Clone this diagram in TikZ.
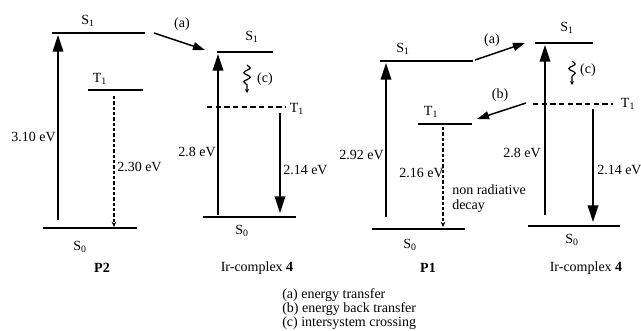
\documentclass[tikz,border=0pt]{standalone}
\usepackage{fontspec}
\setmainfont{Liberation Serif}
\usetikzlibrary{arrows.meta,decorations.pathmorphing}

\begin{document}
\begin{tikzpicture}[x=0.75pt, y=-0.75pt,
  every node/.style = {font=\fontsize{10.5}{11.25}\selectfont, inner sep=0pt},
  level/.style  = {line width=1pt},
  tlevel/.style = {line width=1pt, dash pattern=on 4pt off 2.5pt},
  up/.style     = {-{Triangle[length=12.5pt, width=8pt]}, line width=1pt},
  nr/.style     = {-{Stealth[length=4pt, width=3.5pt]}, line width=1pt, dash pattern=on 2.5pt off 1.5pt},
  et/.style     = {-{Triangle[length=9pt, width=6pt]}, line width=1.1pt},
  isc/.style    = {-{Stealth[length=3pt, width=3pt]}, line width=0.9pt, decorate,
                   decoration={snake, amplitude=2.4pt, segment length=7pt, post length=6pt}},
  molname/.style= {font=\fontsize{10.5}{11.25}\selectfont\bfseries}
]
\useasboundingbox (0,0) rectangle (641,331);

% ================= P2 =================
\coordinate (p2S1a) at (52,33);  \coordinate (p2S1b) at (145,33);
\coordinate (p2T1a) at (88,90);  \coordinate (p2T1b) at (143,90);
\coordinate (p2S0a) at (43,228); \coordinate (p2S0b) at (137,228);
\draw[level] (p2S1a) -- (p2S1b);
\draw[level] (p2T1a) -- (p2T1b);
\draw[level] (p2S0a) -- (p2S0b);
\node (p2S1) at (88,21)  {S\textsubscript{1}};
\node (p2T1) at (100,79) {T\textsubscript{1}};
\node (p2S0) at (80,247) {S\textsubscript{0}};
\coordinate (p2up0) at (58,220);  \coordinate (p2up1) at (58,35);
\coordinate (p2nr0) at (114,96);  \coordinate (p2nr1) at (114,227);
\draw[up] (p2up0) -- (p2up1);
\draw[nr] (p2nr0) -- (p2nr1);
\node[anchor=east] (p2E) at (56,137) {3.10 eV};
\node[anchor=west] (p2P) at (117,167) {2.30 eV};
\node[molname] (p2) at (102,268) {P2};

% ================= Ir-complex 4 (left) =================
\coordinate (i1S1a) at (217,52);  \coordinate (i1S1b) at (273,52);
\coordinate (i1T1a) at (207,107); \coordinate (i1T1b) at (286,107);
\coordinate (i1S0a) at (203,217); \coordinate (i1S0b) at (296,217);
\draw[level]  (i1S1a) -- (i1S1b);
\draw[tlevel] (i1T1a) -- (i1T1b);
\draw[level]  (i1S0a) -- (i1S0b);
\node (i1S1) at (252,37)  {S\textsubscript{1}};
\node (i1T1) at (297,109) {T\textsubscript{1}};
\node (i1S0) at (242,231) {S\textsubscript{0}};
\coordinate (i1up0) at (218,215); \coordinate (i1up1) at (218,54);
\coordinate (i1em0) at (280,113); \coordinate (i1em1) at (280,213);
\coordinate (i1c0) at (247,65);   \coordinate (i1c1) at (247,93);
\draw[up]  (i1up0) -- (i1up1);
\draw[up]  (i1em0) -- (i1em1);
\draw[isc] (i1c0) -- (i1c1);
\node (i1c) at (265,79) {(c)};
\node[anchor=east] (i1E) at (216,152) {2.8 eV};
\node[anchor=west] (i1P) at (283,170) {2.14 eV};
\node (i1) at (257,268) {Ir-complex \textbf{4}};

% energy transfer P2 -> Ir
\coordinate (a1s) at (154,33); \coordinate (a1e) at (205,50);
\draw[et] (a1s) -- (a1e);
\node (a1) at (182,24) {(a)};

% ================= P1 =================
\coordinate (p1S1a) at (380,61);  \coordinate (p1S1b) at (473,61);
\coordinate (p1T1a) at (418,124); \coordinate (p1T1b) at (472,124);
\coordinate (p1S0a) at (372,229); \coordinate (p1S0b) at (465,229);
\draw[level] (p1S1a) -- (p1S1b);
\draw[level] (p1T1a) -- (p1T1b);
\draw[level] (p1S0a) -- (p1S0b);
\node (p1S1) at (403,49)  {S\textsubscript{1}};
\node (p1T1) at (431,112) {T\textsubscript{1}};
\node (p1S0) at (410,245) {S\textsubscript{0}};
\coordinate (p1up0) at (386,217); \coordinate (p1up1) at (386,63);
\coordinate (p1nr0) at (443,127); \coordinate (p1nr1) at (443,227);
\draw[up] (p1up0) -- (p1up1);
\draw[nr] (p1nr0) -- (p1nr1);
\node[anchor=east] (p1E) at (384,155) {2.92 eV};
\node[anchor=east] (p1P) at (444,173) {2.16 eV};
\node[anchor=west, align=left] (p1nd) at (452,199) {non radiative\\decay};
\node[molname] (p1) at (428,268) {P1};

% ================= Ir-complex 4 (right) =================
\coordinate (i2S1a) at (535,43);  \coordinate (i2S1b) at (593,43);
\coordinate (i2T1a) at (533,104); \coordinate (i2T1b) at (613,104);
\coordinate (i2S0a) at (528,226); \coordinate (i2S0b) at (620,226);
\draw[level]  (i2S1a) -- (i2S1b);
\draw[tlevel] (i2T1a) -- (i2T1b);
\draw[level]  (i2S0a) -- (i2S0b);
\node (i2S1) at (567,28)  {S\textsubscript{1}};
\node (i2T1) at (628,104) {T\textsubscript{1}};
\node (i2S0) at (572,240) {S\textsubscript{0}};
\coordinate (i2up0) at (545,215); \coordinate (i2up1) at (545,45);
\coordinate (i2em0) at (593,109); \coordinate (i2em1) at (593,222);
\coordinate (i2c0) at (572,61);   \coordinate (i2c1) at (572,85);
\draw[up]  (i2up0) -- (i2up1);
\draw[up]  (i2em0) -- (i2em1);
\draw[isc] (i2c0) -- (i2c1);
\node (i2c) at (588,70) {(c)};
\node[anchor=east] (i2E) at (541,153) {2.8 eV};
\node[anchor=west] (i2P) at (597,170) {2.14 eV};
\node (i2) at (586,268) {Ir-complex \textbf{4}};

% energy transfer and back transfer
\coordinate (a2s) at (475,60);  \coordinate (a2e) at (525,43);
\coordinate (b2s) at (526,103); \coordinate (b2e) at (477,119);
\draw[et] (a2s) -- (a2e);
\draw[et] (b2s) -- (b2e);
\node (a2) at (492,40) {(a)};
\node (b2) at (500,95) {(b)};

% legend
\node[anchor=north west, align=left, font=\fontsize{10.5}{10.8}\selectfont] (key) at (282,288)
  {(a) energy transfer\\(b) energy back transfer\\(c) intersystem crossing};

\end{tikzpicture}
\end{document}
